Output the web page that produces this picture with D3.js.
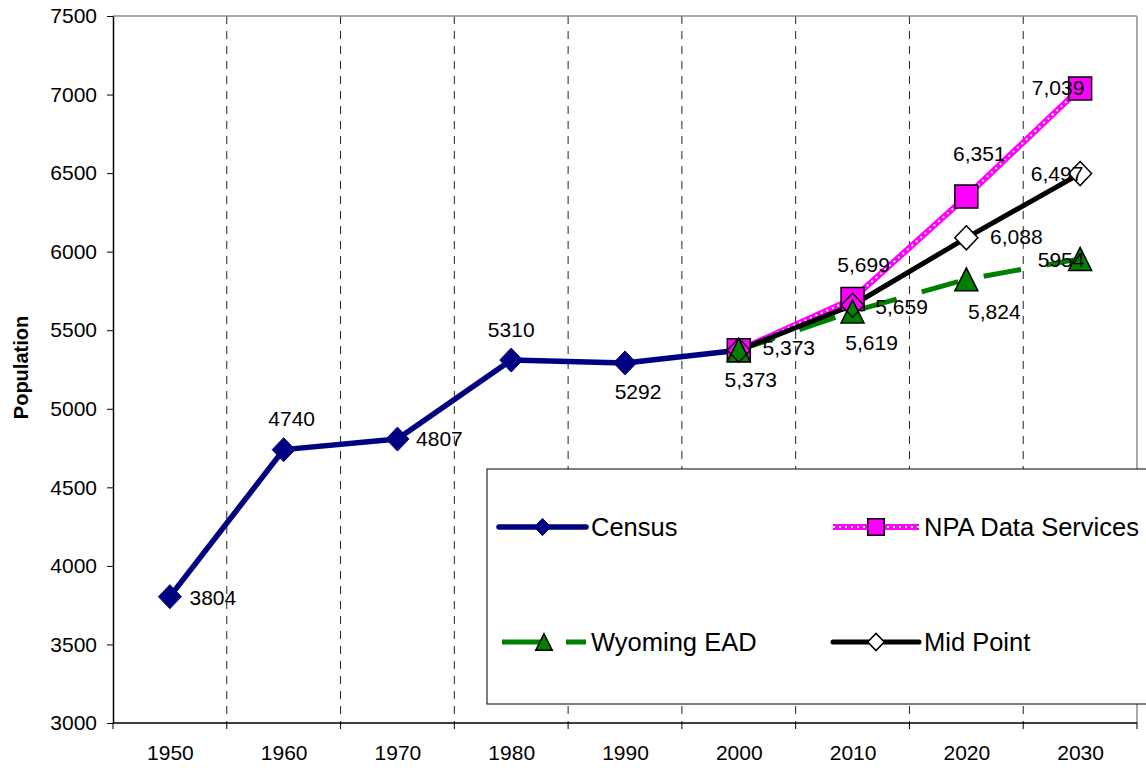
<!DOCTYPE html>
<html>
<head>
<meta charset="utf-8">
<script src="https://cdn.jsdelivr.net/npm/d3@7"></script>
<style>
  html, body { margin: 0; padding: 0; background: #fff; }
  svg { display: block; font-family: "Liberation Sans", Arial, sans-serif; }
</style>
</head>
<body>
<script>
// ---- Data ----
const categories = ["1950", "1960", "1970", "1980", "1990", "2000", "2010", "2020", "2030"];
const censusYears = ["1950", "1960", "1970", "1980", "1990", "2000"];
const censusValues = [3804, 4740, 4807, 5310, 5292, 5373];
const projectionYears = ["2000", "2010", "2020", "2030"];
const npaValues = [5373, 5699, 6351, 7039];
const wyomingValues = [5373, 5619, 5824, 5954];
const midPointValues = [5373, 5659, 6088, 6497];
const yTicks = [3000, 3500, 4000, 4500, 5000, 5500, 6000, 6500, 7000, 7500];

// ---- Layout ----
const W = 1146, H = 768;
const plot = { left: 113, right: 1137, top: 16, bottom: 723 };
const FONT = 21;
const FAMILY = "'Liberation Sans', Arial, sans-serif";

const svg = d3.select("body").append("svg").attr("width", W).attr("height", H);

const x = d3.scalePoint().domain(categories).range([plot.left, plot.right]).padding(0.5);
const band = d3.scaleBand().domain(categories).range([plot.left, plot.right]);
const y = d3.scaleLinear().domain([3000, 7500]).range([plot.bottom, plot.top]);

// vertical dashed gridlines between categories
const inner = categories.slice(1).map(c => band(c));
svg.append("g").selectAll("line").data(inner).join("line")
  .attr("x1", d => d).attr("x2", d => d)
  .attr("y1", plot.top).attr("y2", plot.bottom)
  .attr("stroke", "#222").attr("stroke-width", 1)
  .attr("stroke-dasharray", "8,7");

// plot frame (top and right in grey)
svg.append("line").attr("x1", plot.left).attr("x2", plot.right).attr("y1", plot.top).attr("y2", plot.top)
  .attr("stroke", "#8c8c8c").attr("stroke-width", 1.5);
svg.append("line").attr("x1", plot.right).attr("x2", plot.right).attr("y1", plot.top).attr("y2", plot.bottom)
  .attr("stroke", "#8c8c8c").attr("stroke-width", 1.5);

// y axis
const yAxis = svg.append("g").attr("transform", `translate(${plot.left},0)`)
  .call(d3.axisLeft(y).tickValues(yTicks).tickSize(6).tickSizeOuter(0).tickPadding(10).tickFormat(d3.format("d")));
yAxis.attr("font-size", null).attr("font-family", null);
yAxis.select(".domain").attr("stroke", "#000").attr("stroke-width", 1.5);
yAxis.selectAll(".tick line").attr("stroke", "#000").attr("stroke-width", 1);
yAxis.selectAll("text").style("font-size", FONT + "px").style("font-family", FAMILY).attr("fill", "#000");

// x axis: labels at category centres, ticks at category boundaries
const xAxis = svg.append("g").attr("transform", `translate(0,${plot.bottom})`)
  .call(d3.axisBottom(x).tickSize(0).tickPadding(22));
xAxis.attr("font-size", null).attr("font-family", null);
xAxis.select(".domain").remove();
xAxis.selectAll("text").style("font-size", FONT + "px").style("font-family", FAMILY).attr("fill", "#000");
const bounds = categories.map(c => band(c)).concat([band.range()[1]]);
svg.append("g").selectAll("line").data(bounds).join("line")
  .attr("x1", d => d).attr("x2", d => d)
  .attr("y1", plot.bottom).attr("y2", plot.bottom + 6)
  .attr("stroke", "#000").attr("stroke-width", 1);
svg.append("line").attr("x1", plot.left).attr("x2", plot.right)
  .attr("y1", plot.bottom).attr("y2", plot.bottom)
  .attr("stroke", "#000").attr("stroke-width", 1.5);

// y axis title
svg.append("text")
  .attr("transform", `translate(28,${(plot.top + plot.bottom) / 2 - 2}) rotate(-90)`)
  .attr("text-anchor", "middle").attr("font-weight", "bold").attr("font-size", 20)
  .text("Population");

// ---- Series ----
const toPts = (yrs, vals) => yrs.map((yr, i) => ({ year: yr, value: vals[i] }));
const series = [
  { name: "Census", pts: toPts(censusYears, censusValues), color: "#000080", marker: "census", fmt: d3.format("d") },
  { name: "NPA Data Services", pts: toPts(projectionYears, npaValues), color: "#ff00ff", marker: "square", fmt: d3.format(",") },
  { name: "Wyoming EAD", pts: toPts(projectionYears, wyomingValues), color: "#008000", marker: "triangle", fmt: d3.format(",") },
  { name: "Mid Point", pts: toPts(projectionYears, midPointValues), color: "#000", marker: "hollowDiamond", fmt: d3.format(",") }
];

const line = d3.line().x(d => x(d.year)).y(d => y(d.value));

function drawLine(g, s, path) {
  if (s.marker === "square") {
    g.append("path").attr("d", path).attr("fill", "none").attr("stroke", s.color).attr("stroke-width", 6);
    g.append("path").attr("d", path).attr("fill", "none").attr("stroke", "#fff")
      .attr("stroke-width", 2).attr("stroke-dasharray", "2,4");
  } else if (s.marker === "triangle") {
    g.append("path").attr("d", path).attr("fill", "none").attr("stroke", s.color)
      .attr("stroke-width", 5).attr("stroke-dasharray", "38,26");
  } else {
    g.append("path").attr("d", path).attr("fill", "none").attr("stroke", s.color)
      .attr("stroke-width", s.marker === "census" ? 5.5 : 5)
      .attr("stroke-linejoin", "round").attr("stroke-linecap", "round");
  }
}

function markerPath(kind, k) {
  if (kind === "square") {
    const a = 11.5 * k;
    return `M${-a},${-a}H${a}V${a}H${-a}Z`;
  }
  if (kind === "triangle") {
    const a = 11.5 * k, b = 11.5 * k;
    return `M0,${-b}L${a},${b}L${-a},${b}Z`;
  }
  const a = 11.5 * k, b = 12 * k;   // diamonds
  return `M0,${-b}L${a},0L0,${b}L${-a},0Z`;
}

function markerStyle(sel, s) {
  if (s.marker === "census") sel.attr("fill", s.color).attr("stroke", s.color).attr("stroke-width", 1);
  else if (s.marker === "hollowDiamond") sel.attr("fill", "#fff").attr("stroke", "#000").attr("stroke-width", 1.5);
  else sel.attr("fill", s.color).attr("stroke", "#000").attr("stroke-width", 1.5);
}

const linesG = svg.append("g");
series.forEach(s => drawLine(linesG, s, line(s.pts)));

// markers: diamond fills first, then squares and triangles, then diamond outlines on top
const markersG = svg.append("g");
const bySeries = Object.fromEntries(series.map(s => [s.marker, s]));
function drawMarkers(s, fillOnly, outlineOnly) {
  const sel = markersG.append("g").selectAll("path").data(s.pts).join("path")
    .attr("transform", d => `translate(${x(d.year)},${y(d.value)})`)
    .attr("d", markerPath(s.marker, 1))
    .call(markerStyle, s);
  if (fillOnly) sel.attr("stroke", "none");
  if (outlineOnly) sel.attr("fill", "none");
}
drawMarkers(bySeries.census);
drawMarkers(bySeries.hollowDiamond, true, false);
drawMarkers(bySeries.square);
drawMarkers(bySeries.triangle);
drawMarkers(bySeries.hollowDiamond, false, true);

// ---- Data labels (offsets of label centre from its point; null = no label) ----
const labelOffsets = {
  "Census": [[43, 1], [8, -31], [42, -1], [0, -31], [13, 29], null],
  "NPA Data Services": [null, [11, -34], [13, -43], [-22, -1]],
  "Wyoming EAD": [[12, 29], [19, 31], [28, 32], [-19, 1]],
  "Mid Point": [[50, -3], [49, 1], [50, -1], [-23, 0]]
};
const labelText = {
  "Wyoming EAD": (v, i) => i === 3 ? d3.format("d")(v) : d3.format(",")(v)
};

const labelsG = svg.append("g").attr("font-size", FONT).attr("fill", "#000");
series.forEach(s => {
  const offs = labelOffsets[s.name];
  const fmt = labelText[s.name] || ((v) => s.fmt(v));
  s.pts.forEach((p, i) => {
    const o = offs[i];
    if (!o) return;
    labelsG.append("text")
      .attr("x", x(p.year) + o[0])
      .attr("y", y(p.value) + o[1] + 0.358 * FONT)
      .attr("text-anchor", "middle")
      .text(fmt(p.value, i));
  });
});

// ---- Legend ----
const legend = svg.append("g");
legend.append("rect").attr("x", 487).attr("y", 469).attr("width", 720).attr("height", 235)
  .attr("fill", "#fff").attr("stroke", "#000").attr("stroke-width", 1);

const legendPos = [
  { x0: 499, x1: 586, y: 527 },
  { x0: 833, x1: 919, y: 527 },
  { x0: 502, x1: 586, y: 642 },
  { x0: 833, x1: 919, y: 642 }
];
series.forEach((s, i) => {
  const p = legendPos[i];
  const g = legend.append("g");
  drawLine(g, s, d3.line()([[p.x0, p.y], [p.x1, p.y]]));
  g.append("path").attr("transform", `translate(${(p.x0 + p.x1) / 2},${p.y})`)
    .attr("d", markerPath(s.marker, 0.72)).call(markerStyle, s);
  g.append("text").attr("x", p.x1 + 5).attr("y", p.y + 0.358 * 25.5)
    .attr("font-size", 25.5).attr("fill", "#000").text(s.name);
});
</script>
</body>
</html>
